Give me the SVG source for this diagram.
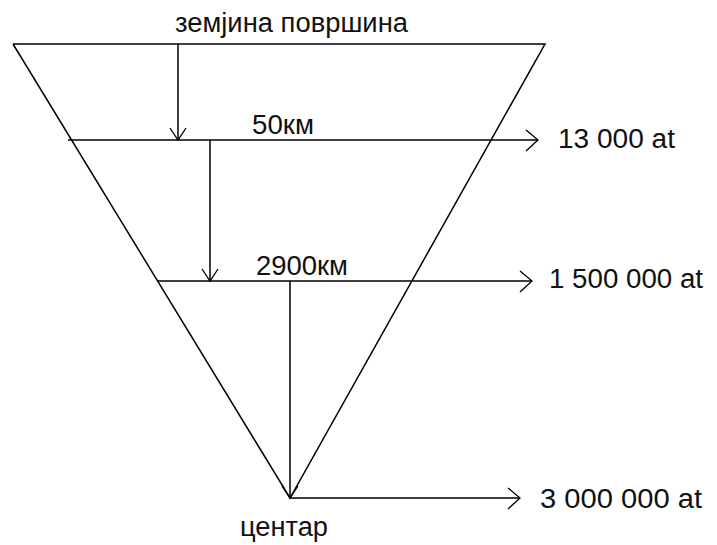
<svg xmlns="http://www.w3.org/2000/svg" width="717" height="545" viewBox="0 0 717 545">
<style>
.ln{stroke:#000;stroke-width:1.5;fill:none}
.ah{stroke:#000;stroke-width:1.3;fill:none}
.t{font-family:"Liberation Sans",Arial,sans-serif;font-size:27px;fill:#111}
</style>
<rect width="717" height="545" fill="#fff"/>
<g id="cone">
<polyline class="ln" points="13,44 545,44 290,498 13,44"/>
</g>
<g id="surface-label"><text class="t" x="175" y="32" textLength="233" lengthAdjust="spacingAndGlyphs">земјина површина</text></g>
<g id="layer1">
<text class="t" x="252" y="134" textLength="62" lengthAdjust="spacingAndGlyphs">50км</text>
<text class="t" x="558" y="148" textLength="117" lengthAdjust="spacingAndGlyphs">13 000 at</text>
</g>
<g id="layer2">
<text class="t" x="256" y="275" textLength="92" lengthAdjust="spacingAndGlyphs">2900км</text>
<text class="t" x="549" y="288" textLength="154" lengthAdjust="spacingAndGlyphs">1 500 000 at</text>
</g>
<g id="center">
<text class="t" x="240" y="536" textLength="88" lengthAdjust="spacingAndGlyphs">центар</text>
<text class="t" x="540" y="508" textLength="162" lengthAdjust="spacingAndGlyphs">3 000 000 at</text>
</g>
<g id="connectors">
<line class="ln" x1="68" y1="140" x2="538" y2="140"/>
<polyline class="ah" points="526,130 538,140 526,151"/>
<line class="ln" x1="157" y1="281" x2="532" y2="281"/>
<polyline class="ah" points="520,271 532,281 520,292"/>
<line class="ln" x1="290" y1="498" x2="520" y2="498"/>
<polyline class="ah" points="508,488 520,498 508,509"/>
<line class="ln" x1="178" y1="44" x2="178" y2="140"/>
<polyline class="ah" points="170,128 178,140 186,128"/>
<line class="ln" x1="210" y1="140" x2="210" y2="281"/>
<polyline class="ah" points="202,269 210,281 218,269"/>
<line class="ln" x1="290" y1="281" x2="290" y2="498"/>
<polyline class="ah" points="282,486 290,498 298,486"/>
</g>
</svg>
